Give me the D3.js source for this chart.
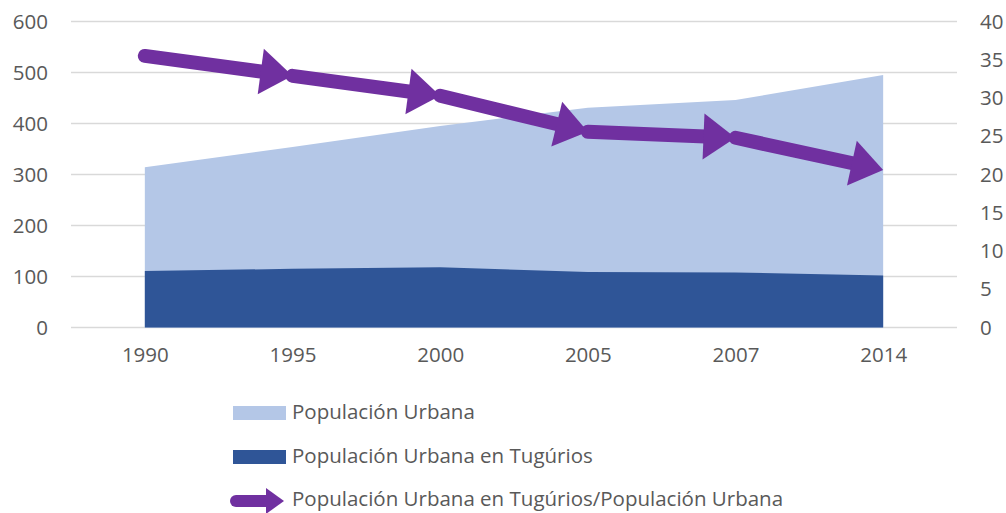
<!DOCTYPE html>
<html><head><meta charset="utf-8">
<script src="https://cdn.jsdelivr.net/npm/d3@7"></script>
<style>body{margin:0;background:#fff;} svg{display:block;}</style>
</head><body>
<svg id="chart" width="1006" height="513"></svg>
<script>
const categories = ["1990","1995","2000","2005","2007","2014"];
const urbanPop = [314, 354, 395, 431, 446, 495];
const slumPop = [111, 115, 118, 109, 108, 102];
const slumShare = [35.5, 32.9, 30.3, 25.6, 24.8, 20.6];
const leftTicks = [0,100,200,300,400,500,600];
const rightTicks = [0,5,10,15,20,25,30,35,40];
const seriesNames = ["Populación Urbana","Populación Urbana en Tugúrios","Populación Urbana en Tugúrios/Populación Urbana"];

const svg = d3.select("#chart");
const pLeft = 71, pRight = 957, pTop = 21.5, pBottom = 327.5;
const font = "'Open Sans', sans-serif";
const textColor = "#595959";
const fs = "20.5px";

const x = d3.scalePoint().domain(categories).range([pLeft, pRight]).padding(0.5);
const y = d3.scaleLinear().domain([0,600]).range([pBottom, pTop]);
const y2 = d3.scaleLinear().domain([0,40]).range([pBottom, pTop]);

// gridlines
svg.append("g").selectAll("line").data(leftTicks).join("line")
  .attr("x1", pLeft).attr("x2", pRight)
  .attr("y1", d=>y(d)).attr("y2", d=>y(d))
  .attr("stroke", "#d9d9d9").attr("stroke-width", 1.3);

// areas
const data = categories.map((c,i)=>({c, u:urbanPop[i], s:slumPop[i], r:slumShare[i]}));
svg.append("path").datum(data)
  .attr("d", d3.area().x(d=>x(d.c)).y0(y(0)).y1(d=>y(d.u)))
  .attr("fill", "#B4C7E7");
svg.append("path").datum(data)
  .attr("d", d3.area().x(d=>x(d.c)).y0(y(0)).y1(d=>y(d.s)))
  .attr("fill", "#2F5597");

// axes
const gl = svg.append("g").attr("transform", `translate(${pLeft-23},0)`)
  .call(d3.axisLeft(y).tickValues(leftTicks).tickSize(0).tickPadding(0));
const gr = svg.append("g").attr("transform", `translate(${pRight+23},0)`)
  .call(d3.axisRight(y2).tickValues(rightTicks).tickSize(0).tickPadding(0));
const gx = svg.append("g").attr("transform", `translate(0,${pBottom+20})`)
  .call(d3.axisBottom(x).tickSize(0).tickPadding(0));
[gl,gr,gx].forEach(g=>{
  g.select(".domain").remove();
  g.selectAll("text").attr("fill", textColor).style("font-family", font).style("font-size", fs);
});
gx.selectAll("text").attr("dy", "0.71em");

// arrow segments
const lw = 14, headLen = 32, headW = 46;
const purple = "#7030A0";
function arrow(g, x0, y0, x1, y1, w, hl, hw) {
  const dx = x1-x0, dy = y1-y0, L = Math.hypot(dx,dy);
  const ux = dx/L, uy = dy/L, px = -uy, py = ux;
  const bx = x1 - ux*hl, by = y1 - uy*hl;
  g.append("line").attr("x1", x0).attr("y1", y0).attr("x2", bx+ux*2).attr("y2", by+uy*2)
    .attr("stroke", purple).attr("stroke-width", w).attr("stroke-linecap", "round");
  g.append("path").attr("d", `M${x1},${y1}L${bx+px*hw/2},${by+py*hw/2}L${bx-px*hw/2},${by-py*hw/2}Z`)
    .attr("fill", purple);
}
const ga = svg.append("g");
for (let i=0;i<data.length-1;i++){
  arrow(ga, x(data[i].c), y2(data[i].r), x(data[i+1].c), y2(data[i+1].r), lw, headLen, headW);
}

// legend
const lg = svg.append("g");
lg.append("rect").attr("x",233).attr("y",406).attr("width",53).attr("height",14).attr("fill","#B4C7E7");
lg.append("rect").attr("x",233).attr("y",450).attr("width",53).attr("height",14).attr("fill","#2F5597");
arrow(lg, 236, 501, 284, 501, 12, 18, 26);
const ly = [412, 456, 499];
lg.selectAll("text").data(seriesNames).join("text")
  .attr("x", 292).attr("y", (d,i)=>ly[i]).attr("dy","0.35em")
  .attr("fill", textColor).style("font-family", font).style("font-size",fs)
  .text(d=>d);
</script>
</body></html>
